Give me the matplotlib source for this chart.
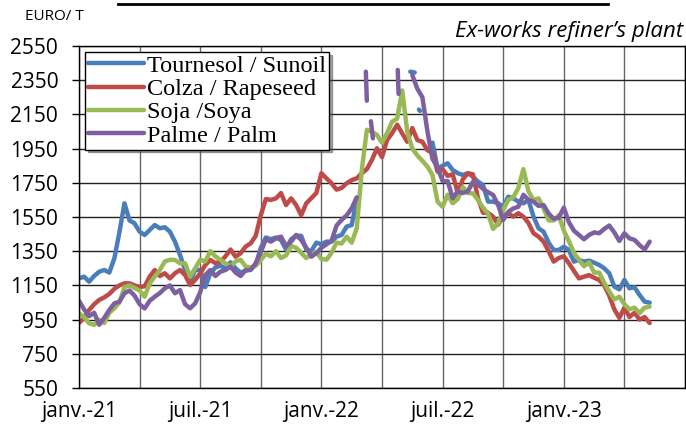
import numpy as np
import matplotlib
matplotlib.use("Agg")
import matplotlib.pyplot as plt
from matplotlib.lines import Line2D

nan = np.nan

# months since janv. 2021, one value every quarter month
months = np.arange(0, 28.25 + 1e-9, 0.25)

tournesol = [
    1191, 1201, 1172, 1205, 1230, 1240, 1225, 1308,
    1460, 1630, 1530, 1513, 1464, 1445, 1474, 1503,
    1484, 1490, 1464, 1406, 1328, 1240, 1170, 1240,
    1240, 1140, 1220, 1255, 1265, 1250, 1285, 1250,
    1225, 1235, 1245, 1270, 1370, 1430, 1420, 1430,
    1415, 1360, 1420, 1440, 1440, 1360, 1350, 1400,
    1390, 1406, 1406, 1435, 1445, 1494, 1503, 1650,
    nan, nan, nan, nan, nan, nan, nan, nan,
    nan, nan, nan, nan, nan, nan, 1985, 1835,
    1850, 1864, 1825, 1806, 1796, 1806, 1786, 1757,
    1737, 1640, 1640, 1630, 1610, 1669, 1659, 1640,
    1630, 1650, 1552, 1484, 1464, 1400, 1357, 1357,
    1376, 1357, 1289, 1299, 1289, 1295, 1283, 1270,
    1250, 1221, 1143, 1127, 1182, 1133, 1139, 1094,
    1055, 1049,
]
colza = [
    930, 960, 1006, 1040, 1065, 1080, 1100, 1130,
    1150, 1162, 1162, 1150, 1140, 1145, 1201, 1240,
    1205, 1221, 1191, 1221, 1240, 1211, 1152, 1182,
    1220, 1269, 1299, 1280, 1289, 1320, 1360, 1318,
    1338, 1377, 1396, 1440, 1560, 1655, 1650, 1659,
    1690, 1620, 1659, 1620, 1560, 1630, 1660, 1690,
    1806, 1776, 1747, 1710, 1720, 1747, 1766, 1776,
    1806, 1830, 1883, 1952, 1900, 2000, 2040, 2090,
    2039, 1990, 2070, 2000, 1990, 1940, 1925, 1815,
    1830, 1790, 1800, 1690, 1770, 1806, 1800, 1660,
    1575, 1575, 1552, 1505, 1555, 1572, 1552, 1572,
    1552, 1515, 1455, 1435, 1406, 1350, 1289, 1310,
    1320, 1280, 1235, 1191, 1201, 1210, 1195, 1182,
    1150, 1090, 1010, 960, 1020, 965, 990, 950,
    965, 930,
]
soja = [
    987, 965, 928, 919, 948, 930, 990, 1016,
    1050, 1140, 1150, 1135, 1120, 1084, 1162, 1201,
    1240, 1290, 1300, 1299, 1279, 1280, 1201, 1250,
    1300, 1290, 1350, 1320, 1300, 1279, 1260, 1290,
    1300, 1260, 1255, 1265, 1299, 1335, 1320, 1350,
    1310, 1325, 1380, 1370, 1340, 1310, 1330, 1345,
    1305, 1300, 1340, 1400, 1395, 1435, 1400, 1484,
    1825, 2060, 2049, 2030, 1985, 2040, 2108, 2125,
    2290, 2049, 1950, 1910, 1878, 1845, 1795, 1640,
    1610, 1680, 1630, 1655, 1725, 1690, 1688, 1650,
    1605, 1570, 1480, 1513, 1591, 1650, 1665, 1720,
    1830, 1700, 1650, 1659, 1600, 1530, 1530, 1560,
    1470, 1410, 1340, 1300, 1262, 1285, 1225, 1225,
    1165, 1115, 1068, 1084, 1040, 1010, 1020, 988,
    1020, 1026,
]
palme = [
    1060, 1010, 970, 990, 920, 960, 1006, 1045,
    1055, 1104, 1120, 1090, 1040, 1015, 1060, 1084,
    1105, 1133, 1150, 1104, 1123, 1040, 1016, 1045,
    1110, 1210, 1240, 1205, 1230, 1240, 1260, 1225,
    1205, 1240, 1240, 1280, 1345, 1420, 1406, 1425,
    1435, 1380, 1406, 1445, 1416, 1370, 1318, 1338,
    1370, 1390, 1410, 1500, 1533, 1560, 1601, 1665,
    nan, nan, nan, nan, nan, nan, nan, nan,
    nan, nan, 2380, 2300, 2250, 2050, 1890, 1840,
    1760, 1760, 1660, 1700, 1690, 1700, 1755, 1740,
    1715, 1695, 1679, 1620, 1533, 1580, 1600, 1610,
    1680, 1650, 1640, 1615, 1620, 1570, 1540, 1545,
    1605, 1520, 1470, 1445, 1420, 1445, 1460, 1455,
    1480, 1500, 1460, 1410, 1455, 1425, 1416, 1386,
    1360, 1406,
]

# isolated quotes between the gaps (month, value)
tournesol_extra = [([16.40, 16.62], [2400, 2395]), ([16.83, 16.88], [2178, 2170])]
palme_extra = [([14.20, 14.25], [2400, 2230]), ([14.45, 14.55], [2110, 2010]),
               ([15.78, 15.82], [2410, 2270])]

labels = ["Tournesol / Sunoil", "Colza / Rapeseed", "Soja /Soya", "Palme / Palm"]
colors = ["#4a7ebb", "#be4b48", "#98b954", "#7d60a0"]
x_labels = ["janv.-21", "", "juil.-21", "", "janv.-22", "", "juil.-22", "",
            "janv.-23", "", ""]
y_ticks = [550, 750, 950, 1150, 1350, 1550, 1750, 1950, 2150, 2350, 2550]

plt.rcParams["font.family"] = ["Open Sans", "DejaVu Sans"]

fig = plt.figure(figsize=(6.86, 4.32), dpi=100)
ax = fig.add_axes([79 / 686, 1 - 388 / 432, 606 / 686, 342 / 432])

series = [tournesol, colza, soja, palme]
extras = [tournesol_extra, [], [], palme_extra]
for vals, extra, lab, col in zip(series, extras, labels, colors):
    ax.plot(months, vals, color=col, lw=3.2, label=lab, solid_capstyle="round")
    for ex, ey in extra:
        ax.plot(ex, ey, color=col, lw=3.2, solid_capstyle="round")

ax.set_xlim(0, 30)
ax.set_ylim(550, 2550)
ax.set_yticks(y_ticks)
ax.set_xticks(np.arange(0, 31, 3))
ax.set_xticklabels(x_labels)

ax.grid(axis="y", color="#222222", lw=1)
ax.grid(axis="x", color="#666666", lw=1)
ax.set_axisbelow(True)
for s in ax.spines.values():
    s.set_color("black")
    s.set_linewidth(1)

ax.tick_params(axis="y", length=5, width=1, color="black", pad=10, labelsize=15)
ax.tick_params(axis="x", length=0, pad=9, labelsize=15)

leg = ax.legend(loc="upper left", bbox_to_anchor=(85 / 686, 1 - 52 / 432),
                bbox_transform=fig.transFigure, borderaxespad=0, borderpad=0.12,
                handlelength=2.3, handletextpad=0.15, labelspacing=0.05,
                fancybox=False, shadow=True, framealpha=1,
                prop={"family": "Liberation Serif", "size": 17.5})
leg.get_frame().set_edgecolor("black")
leg.get_frame().set_linewidth(1)

fig.text(25 / 686, 1 - 17 / 432, "EURO/ T", fontsize=11, va="center", ha="left")
fig.text(683 / 686, 1 - 32 / 432, "Ex-works refiner\u2019s plant", fontsize=16,
         style="italic", va="center", ha="right")
# underline of the cut-off title
fig.add_artist(Line2D([118 / 686, 608 / 686], [1 - 3.5 / 432, 1 - 3.5 / 432],
                      color="black", lw=2, transform=fig.transFigure))

fig.savefig("out.png", dpi=100)
